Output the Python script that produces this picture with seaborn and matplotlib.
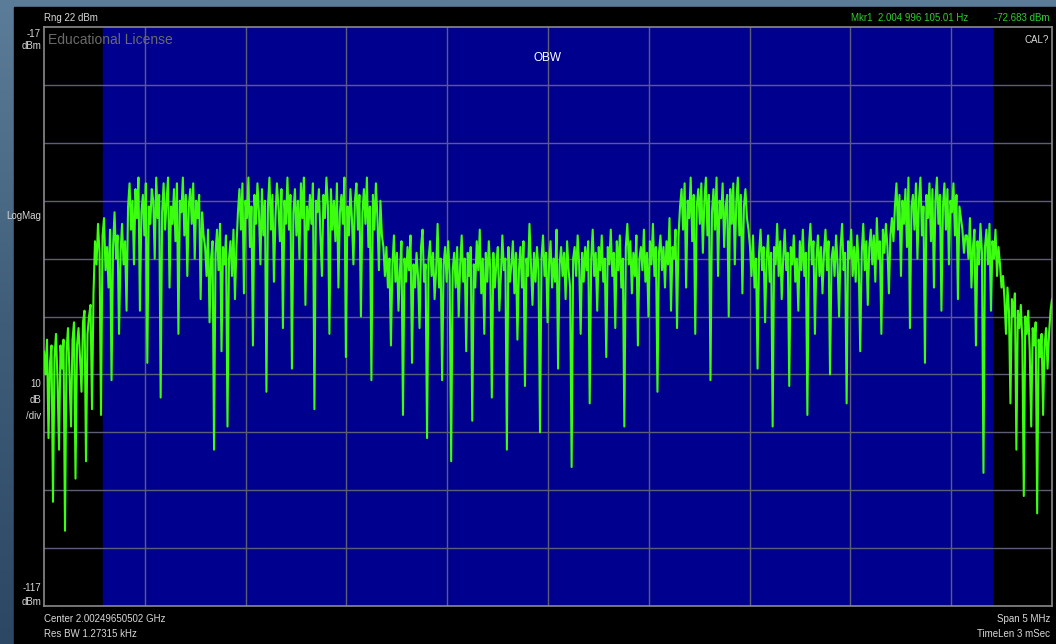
import numpy as np
import pandas as pd
import matplotlib
matplotlib.use("Agg")
import matplotlib.pyplot as plt
import seaborn as sns
from matplotlib.colors import LinearSegmentedColormap

# ---- data (dBm levels, left to right) ----
left_skirt = [-73, -77, -71, -88, -75, -72, -99, -74, -70, -78, -90, -72, -76, -71, -104, -73,
              -69, -77, -86, -71, -68, -95, -72, -69, -74, -80, -68, -66, -92, -70, -67, -65,
              -83, -63]
step_region = [-54, -58, -51, -56, -84, -53, -50, -59, -55, -62, -52, -78, -55, -49, -57, -53,
               -70, -56, -51, -58, -54, -66]
band1 = [-48, -44, -52, -47, -58, -45, -50, -43, -66, -49, -46, -53, -44, -75, -48, -51, -45,
         -47, -57, -43, -50, -46, -81, -49, -44, -52, -47, -43, -62, -48, -51, -45, -54, -44,
         -70, -47, -49, -43, -53, -46, -60, -48, -45, -51, -44, -57, -47, -50, -46, -64, -49,
         -53]
gap1 = [-55, -60, -52, -68, -57, -54, -90, -56, -52, -59, -51, -73, -55, -58, -53, -86, -57,
        -54, -60, -52, -64, -55]
band2 = [-49, -45, -52, -44, -63, -47, -50, -43, -55, -48, -72, -46, -51, -44, -49, -58, -45,
         -53, -47, -80, -48, -43, -52, -46, -61, -50, -44, -48, -54, -45, -69, -47, -51, -43,
         -52, -46, -76, -49, -45, -53, -47, -57, -44, -50, -43, -65, -48, -52, -46, -51, -44,
         -83, -47, -49, -45, -53, -60, -46, -50, -43, -48, -70, -45, -52, -47, -54, -44, -62,
         -49, -46, -51, -43, -74, -48, -53, -45, -50, -58, -47, -44, -52, -46, -67, -49, -45,
         -51, -43, -55, -48, -78, -46, -52, -44, -50, -59, -47, -53, -55]
mid = [-60, -55, -62, -57, -72, -58, -53, -61, -56, -66, -59, -54, -84, -57,
       -61, -55, -59, -53, -75, -58, -62, -56, -60, -69, -55, -52, -61, -58,
       -88, -57, -54, -60, -56, -64, -59, -51, -62, -57, -78, -58, -55, -61,
       -54, -60, -92, -59, -56, -62, -55, -67, -58, -53, -61, -57, -73, -56,
       -60, -55, -85, -58, -62, -54, -59, -52, -63, -57, -70, -56, -61, -54,
       -59, -81, -56, -62, -58, -55, -66, -60, -53, -59, -57, -90, -55, -61,
       -58, -54, -63, -56, -71, -59, -55, -62, -54, -79, -57, -60, -51, -58,
       -65, -56, -61, -55, -59, -87, -57, -53, -60, -56, -68, -58, -54, -62,
       -57, -61, -52, -76, -58, -55, -60, -56, -64, -54, -59, -62, -93, -57,
       -55, -60, -53, -58, -70, -56, -61, -55, -59, -54, -82, -57, -52, -60,
       -56, -66, -55, -59, -53, -61, -57, -74, -55, -58, -52, -60, -56, -69,
       -54, -59, -53, -62, -57, -86, -55, -51, -58, -54, -63, -56, -60, -53,
       -72, -57, -55, -59, -52, -61, -56, -67, -54, -58, -51, -60, -55, -80,
       -56, -53, -59, -55, -62, -54, -58, -50, -66, -55, -57, -52, -69, -53]
band3 = [-48, -45, -52, -44, -62, -47, -50, -43, -54, -46, -70, -48, -45, -51, -44, -56, -47,
         -43, -53, -46, -78, -49, -45, -52, -43, -60, -47, -50, -44, -55, -48, -46, -67, -45,
         -51, -44, -58, -47, -43, -53, -46, -63, -48, -45, -50, -52]
gap3 = [-55, -60, -53, -62, -57, -76, -56, -52, -59, -55, -68, -57, -53, -61, -56, -86, -55,
        -58, -51, -60, -54, -64, -57, -52, -59, -56, -79, -55, -58, -53, -61, -57, -66, -54,
        -59, -52, -60, -56, -84, -55, -51, -58, -54, -70, -57, -53, -60, -55, -63, -56, -52,
        -59, -54, -77, -57, -55, -60, -53, -58, -67, -55, -51, -59, -56, -82, -54, -57, -52,
        -60, -55, -61, -53, -58, -73, -56, -51, -59, -54, -65, -55, -52, -58, -53, -61, -50,
        -57, -54, -70, -52, -56, -51, -55, -63, -53, -50, -54]
band4 = [-48, -44, -52, -46, -60, -47, -51, -45, -55, -43, -69, -48, -46, -52, -44, -57, -47,
         -43, -53, -48, -75, -46, -50, -44, -54, -45, -62, -47, -43, -51, -46, -66, -48, -44,
         -52, -45, -58, -47, -49, -44, -53, -46, -64, -48, -50, -52, -56, -53]
gap4 = [-53, -57, -50, -62, -55, -52, -72, -54, -58, -51, -56, -94, -55, -52, -58, -51, -66,
        -54, -57, -52, -60, -55, -58, -62]
right_skirt = [-60, -64, -70, -62, -66, -82, -64, -67, -63, -90, -66, -69, -65, -71, -98, -67,
               -70, -66, -73, -86, -69, -72, -68, -101, -71, -74, -70, -84, -72, -69, -76, -70,
               -66, -64]

segments = [left_skirt, step_region, band1, gap1, band2, mid, band3, gap3, band4, gap4, right_skirt]
# segment boundaries, MHz offset from center
segment_edges_mhz = [-2.5, -2.247, -2.083, -1.701, -1.538, -0.809, 0.655, 1.002, 1.721, 2.078, 2.257, 2.5]

obw_mhz = (-2.207, 2.202)
ref_top, ref_bottom = -17, -117
span_mhz = 5.0

freqs, levels = [], []
for i, seg in enumerate(segments):
    lo, hi = segment_edges_mhz[i], segment_edges_mhz[i + 1]
    last = (i == len(segments) - 1)
    freqs.extend(np.linspace(lo, hi, len(seg), endpoint=last))
    levels.extend(seg)
df = pd.DataFrame({"freq": freqs, "level": levels})

# ---- figure ----
sns.set_style("dark")
plt.rcParams["font.family"] = ["Liberation Sans Narrow", "Liberation Sans", "DejaVu Sans"]

W, H = 1056, 644
fig = plt.figure(figsize=(W / 100, H / 100), dpi=100)

bg = fig.add_axes([0, 0, 1, 1])
grad = np.linspace(0, 1, 256).reshape(-1, 1)
cmap = LinearSegmentedColormap.from_list("slate", ["#5c7d99", "#3f5d79", "#2c4763"])
bg.imshow(grad, aspect="auto", cmap=cmap, extent=[0, 1, 0, 1])
bg.set_axis_off()
bg.add_patch(plt.Rectangle((14 / W, 0), 1 - 14 / W, 1 - 7 / H, color="black",
                           transform=bg.transAxes, zorder=2))

L, R, T, B = 44, 1052, 27, 606
ax = fig.add_axes([L / W, 1 - B / H, (R - L) / W, (B - T) / H])
ax.set_facecolor("black")
ax.axvspan(obw_mhz[0], obw_mhz[1], color="#00008f", zorder=0)

for k in range(1, 10):
    ax.axvline(-2.5 + k * 0.5, color="#5d5d78", lw=1.0, zorder=1)
    ax.axhline(ref_top - k * 10, color="#5d5d78", lw=1.0, zorder=1)

sns.lineplot(data=df, x="freq", y="level", ax=ax, color="#3cff10", linewidth=1.5,
             estimator=None, sort=False, zorder=3)

ax.set_xlim(-span_mhz / 2, span_mhz / 2)
ax.set_ylim(ref_bottom, ref_top)
ax.set_xticks([])
ax.set_yticks([])
ax.set_xlabel("")
ax.set_ylabel("")
ax.grid(False)
for s in ax.spines.values():
    s.set_visible(True)
    s.set_color("#8a8a8a")
    s.set_linewidth(1.2)


def txt(x, y, s, size=7.5, color="#d8d8d8", ha="left", **kw):
    fig.text(x / W, 1 - y / H, s, fontsize=size, color=color, ha=ha, va="center", **kw)


txt(44, 18, "Rng 22 dBm", size=7)
txt(968, 18, "Mkr1  2.004 996 105.01 Hz", size=7, color="#2ecf2e", ha="right")
txt(1050, 18, "-72.683 dBm", size=7, color="#2ecf2e", ha="right")
txt(41, 34, "-17", size=7, ha="right")
txt(41, 46, "dBm", size=7, ha="right")
txt(48, 40, "Educational License", size=10, color="#6a6a6a")
txt(548, 58, "OBW", size=8.5, color="white", ha="center")
txt(1049, 40, "CAL?", size=7, ha="right")
txt(41, 216, "LogMag", size=7, ha="right")
txt(41, 384, "10", size=7, ha="right")
txt(41, 400, "dB", size=7, ha="right")
txt(41, 416, "/div", size=7, ha="right")
txt(41, 588, "-117", size=7, ha="right")
txt(41, 602, "dBm", size=7, ha="right")
txt(44, 619, "Center 2.00249650502 GHz", size=7)
txt(44, 634, "Res BW 1.27315 kHz", size=7)
txt(1050, 619, "Span 5 MHz", size=7, ha="right")
txt(1050, 634, "TimeLen 3 mSec", size=7, ha="right")

fig.savefig("out.png", dpi=100, facecolor=fig.get_facecolor())
